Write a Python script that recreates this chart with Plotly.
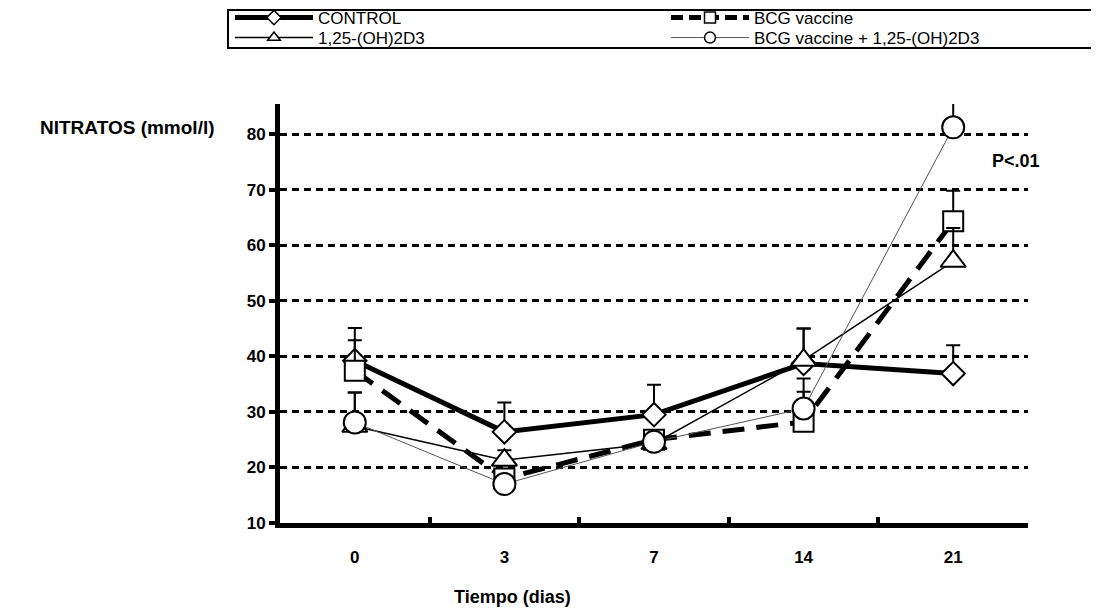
import plotly.graph_objects as go

days = ["0", "3", "7", "14", "21"]

control = [39.2, 26.4, 29.5, 38.7, 36.9]
control_err = [5.9, 5.3, 5.4, 6.3, 5.1]

bcg = [37.4, 18.0, 25.0, 28.2, 64.3]
bcg_err = [5.5, 1.0, 1.0, 5.4, 5.5]

vitd = [27.4, 21.3, 24.3, 39.3, 57.1]
vitd_err = [6.1, 1.8, 1.0, 5.7, 6.0]

bcg_vitd = [28.1, 17.0, 24.6, 30.6, 81.2]
bcg_vitd_err = [5.4, 1.0, 1.0, 5.4, 4.9]

names = ["CONTROL", "BCG vaccine", "1,25-(OH)2D3", "BCG vaccine + 1,25-(OH)2D3"]

FONT = "Liberation Sans, Arial, sans-serif"
W, H = 1099, 611
OFF = 8  # page offset of the figure in the screenshot
ML, MR, MT, MB = 272, 79, 96, 96
PW = W - ML - MR
PH = H - MT - MB


def cx(sx):
    return (sx - OFF) / W


def cy(sy):
    return 1 - (sy - OFF) / H


def px(sx):
    return (sx - OFF - ML) / PW


def py(sy):
    return ((H - MB) - (sy - OFF)) / PH


series = [
    (names[0], control, control_err, dict(color="black", width=5, dash="solid"), "diamond", 18, "legend", (230, 18)),
    (names[1], bcg, bcg_err, dict(color="black", width=5, dash="22px,12px"), "square", 20, "legend2", (666, 18)),
    (names[2], vitd, vitd_err, dict(color="black", width=1.5, dash="solid"), "triangle-up", 22, "legend3", (230, 38)),
    (names[3], bcg_vitd, bcg_vitd_err, dict(color="#555555", width=1, dash="solid"), "circle", 22, "legend4", (666, 38)),
]

fig = go.Figure()
legends = {}
for name, vals, err, line, sym, size, lg, (lx, ly) in series:
    fig.add_trace(go.Scatter(
        x=days, y=vals, name=name, mode="lines+markers",
        line=line, showlegend=False,
        marker=dict(symbol=sym, size=size, color="white", line=dict(color="black", width=2)),
        error_y=dict(type="data", array=err, arrayminus=[0] * len(err), symmetric=False,
                     color="black", thickness=2, width=7),
        cliponaxis=False,
    ))
    # legend-only entry with smaller marker, as in the original key
    lline = dict(line)
    if lline["dash"] != "solid":
        lline["dash"] = "12px,6px"
    fig.add_trace(go.Scatter(
        x=[None], y=[None], name=name, mode="lines+markers", legend=lg,
        line=lline,
        marker=dict(symbol=sym, size=11, color="white", line=dict(color="black", width=1.5)),
        showlegend=True, hoverinfo="skip",
    ))
    legends[lg] = dict(
        xref="container", yref="container", x=cx(lx), y=cy(ly),
        xanchor="left", yanchor="middle", orientation="v",
        bgcolor="rgba(0,0,0,0)", borderwidth=0,
        font=dict(family=FONT, size=17, color="black"),
        itemwidth=78, tracegroupgap=0,
    )

fig.update_layout(
    width=W, height=H,
    margin=dict(l=ML, r=MR, t=MT, b=MB, autoexpand=False),
    plot_bgcolor="white", paper_bgcolor="white",
    font=dict(family=FONT, color="black"),
    showlegend=True,
    **legends,
    xaxis=dict(
        type="category", range=[-0.5, 4.5],
        showline=True, linecolor="black", linewidth=5,
        ticks="inside", tickson="boundaries", ticklen=6, tickwidth=4, tickcolor="black",
        showgrid=False, zeroline=False,
        tickfont=dict(family=FONT, size=17, color="black", weight="bold"),
        ticklabelstandoff=15,
    ),
    yaxis=dict(
        range=[10, 85.4], tickmode="array", tickvals=[10, 20, 30, 40, 50, 60, 70, 80],
        showline=True, linecolor="black", linewidth=5,
        ticks="outside", ticklen=6, tickwidth=4, tickcolor="black",
        showgrid=True, gridcolor="black", gridwidth=3, griddash="7px,5px",
        zeroline=False,
        tickfont=dict(family=FONT, size=17, color="black", weight="bold"),
        ticklabelstandoff=0,
    ),
    shapes=[
        dict(type="rect", xref="paper", yref="paper",
             x0=px(228), x1=px(1096), y0=py(48), y1=py(10),
             line=dict(color="black", width=2), fillcolor="rgba(0,0,0,0)", layer="below"),
    ],
    annotations=[
        dict(text="NITRATOS (mmol/l)", xref="paper", yref="paper",
             x=px(127.5), y=py(127), xanchor="center", yanchor="middle", showarrow=False,
             font=dict(family=FONT, size=19, weight="bold", color="black")),
        dict(text="Tiempo (dias)", xref="paper", yref="paper",
             x=px(512), y=py(597), xanchor="center", yanchor="middle", showarrow=False,
             font=dict(family=FONT, size=18, weight="bold", color="black")),
        dict(text="P<.01", xref="paper", yref="paper",
             x=px(1016), y=py(161), xanchor="center", yanchor="middle", showarrow=False,
             font=dict(family=FONT, size=18, weight="bold", color="black")),
    ],
)

fig.write_html("out.html")
